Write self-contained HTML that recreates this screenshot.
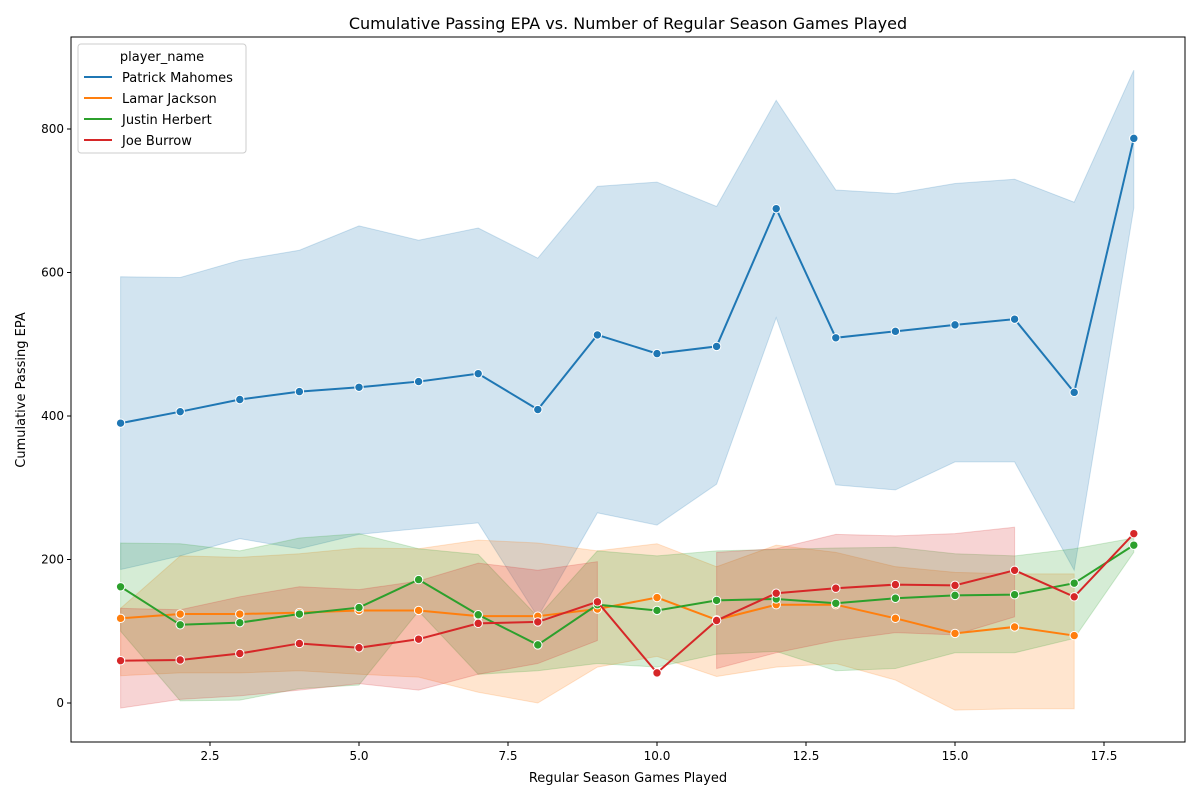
<!DOCTYPE html>
<html><head><meta charset="utf-8"><style>
body{margin:0;background:#fff;font-family:"Liberation Sans","DejaVu Sans",sans-serif;}
svg text{font-family:"DejaVu Sans","Liberation Sans",sans-serif;}
</style></head><body>
<svg id="chart" width="1200" height="800" xmlns="http://www.w3.org/2000/svg">
<rect width="1200" height="800" fill="#fff"/>
<g id="bands"></g><g id="lines"></g><g id="axes"></g>
</svg>
<script>
const games=[1,2,3,4,5,6,7,8,9,10,11,12,13,14,15,16,17,18];
const playerNames=["Patrick Mahomes","Lamar Jackson","Justin Herbert","Joe Burrow"];
const colors=["#1f77b4","#ff7f0e","#2ca02c","#d62728"];
const mahomes=[390,406,423,434,440,448,459,409,513,487,497,689,509,518,527,535,433,787];
const mahomesHi=[594,593,617,631,665,645,662,620,720,726,692,840,715,710,724,730,698,882];
const mahomesLo=[186,205,229,215,235,243,251,120,265,248,305,537,304,297,336,336,185,690];
const lamar=[118,124,124,126,129,129,121,121,131,147,116,137,137,118,97,106,94,null];
const lamarHi=[132,205,203,208,216,215,227,223,212,222,190,220,210,190,182,180,180,null];
const lamarLo=[38,42,42,45,40,36,15,0,50,65,37,50,55,32,-10,-8,-8,null];
const herbert=[162,109,112,124,133,172,123,81,137,129,143,145,139,146,150,151,167,220];
const herbertHi=[223,222,212,230,236,215,207,120,212,205,212,214,216,217,208,205,215,230];
const herbertLo=[100,3,4,20,25,128,40,45,55,50,68,72,45,48,70,70,90,210];
const burrow=[59,60,69,83,77,89,111,113,141,42,115,153,160,165,164,185,148,236];
const burrowHi=[132,130,148,162,158,170,195,185,197,null,210,215,235,233,236,245,null,null];
const burrowLo=[-7,5,10,18,27,18,40,55,87,null,48,70,87,98,95,120,null,null];
const xTicks=[2.5,5.0,7.5,10.0,12.5,15.0,17.5];
const yTicks=[0,200,400,600,800];

const L=71,R=1185,T=37,B=742;
const X=v=>359+(v-5)*59.6;
const Y=v=>703-v*0.7175;
const NS="http://www.w3.org/2000/svg";
function mk(tag,attrs,parent){const e=document.createElementNS(NS,tag);for(const k in attrs)e.setAttribute(k,attrs[k]);parent.appendChild(e);return e;}
const bands=document.getElementById('bands'),lines=document.getElementById('lines'),axes=document.getElementById('axes');
const series=[[mahomes,mahomesHi,mahomesLo],[lamar,lamarHi,lamarLo],[herbert,herbertHi,herbertLo],[burrow,burrowHi,burrowLo]];
series.forEach((s,si)=>{
  const [v,hi,lo]=s;
  let seg=[];
  const flush=()=>{ if(seg.length>1){
      let d='M'+seg.map(i=>X(games[i])+','+Y(hi[i])).join('L')+'L'+seg.slice().reverse().map(i=>X(games[i])+','+Y(lo[i])).join('L')+'Z';
      const p=mk('path',{d:d,fill:colors[si],'fill-opacity':0.2,stroke:colors[si],'stroke-opacity':0.2},bands);
      
      
    } seg=[]; };
  games.forEach((g,i)=>{ if(hi[i]==null||lo[i]==null) flush(); else seg.push(i); });
  flush();
  const idx=games.map((g,i)=>i).filter(i=>v[i]!=null);
  const ln=mk('polyline',{points:idx.map(i=>X(games[i])+','+Y(v[i])).join(' '),fill:'none',stroke:colors[si],'stroke-width':2},lines);
  
  
  idx.forEach(i=>{
    const c=mk('circle',{cx:X(games[i]),cy:Y(v[i]),r:4.2,fill:colors[si],stroke:'#fff','stroke-width':1},lines);
    
    
  });
});
const fr=mk('rect',{x:L,y:T,width:R-L,height:B-T,fill:'none',stroke:'#000','stroke-width':1},axes);


xTicks.forEach(t=>{
  mk('line',{x1:X(t),x2:X(t),y1:B,y2:B+4,stroke:'#000'},axes);
  const tx=mk('text',{x:X(t),y:B+18,'font-size':12,'text-anchor':'middle'},axes);tx.textContent=t.toFixed(1);
  
  
});
yTicks.forEach(t=>{
  mk('line',{x1:L-4,x2:L,y1:Y(t),y2:Y(t),stroke:'#000'},axes);
  const tx=mk('text',{x:L-7,y:Y(t)+4,'font-size':12,'text-anchor':'end'},axes);tx.textContent=t;
  
  
});
let t=mk('text',{x:628,y:29,'font-size':16,'text-anchor':'middle'},axes);t.textContent='Cumulative Passing EPA vs. Number of Regular Season Games Played';


t=mk('text',{x:628,y:782,'font-size':13,'text-anchor':'middle'},axes);t.textContent='Regular Season Games Played';


t=mk('text',{x:25,y:390,'font-size':13,'text-anchor':'middle',transform:'rotate(-90 25 390)'},axes);t.textContent='Cumulative Passing EPA';


const lg=mk('g',{},axes);


mk('rect',{x:78,y:44,width:168,height:109,rx:3,fill:'#fff','fill-opacity':0.8,stroke:'#ccc'},lg);
t=mk('text',{x:162,y:61,'font-size':13,'text-anchor':'middle'},lg);t.textContent='player_name';
playerNames.forEach((n,i)=>{
  const y=77+i*21;
  mk('line',{x1:84,x2:112,y1:y,y2:y,stroke:colors[i],'stroke-width':2},lg);
  const e=mk('text',{x:122,y:y+5,'font-size':13},lg);e.textContent=n;
  
  
});
</script>
</body></html>
